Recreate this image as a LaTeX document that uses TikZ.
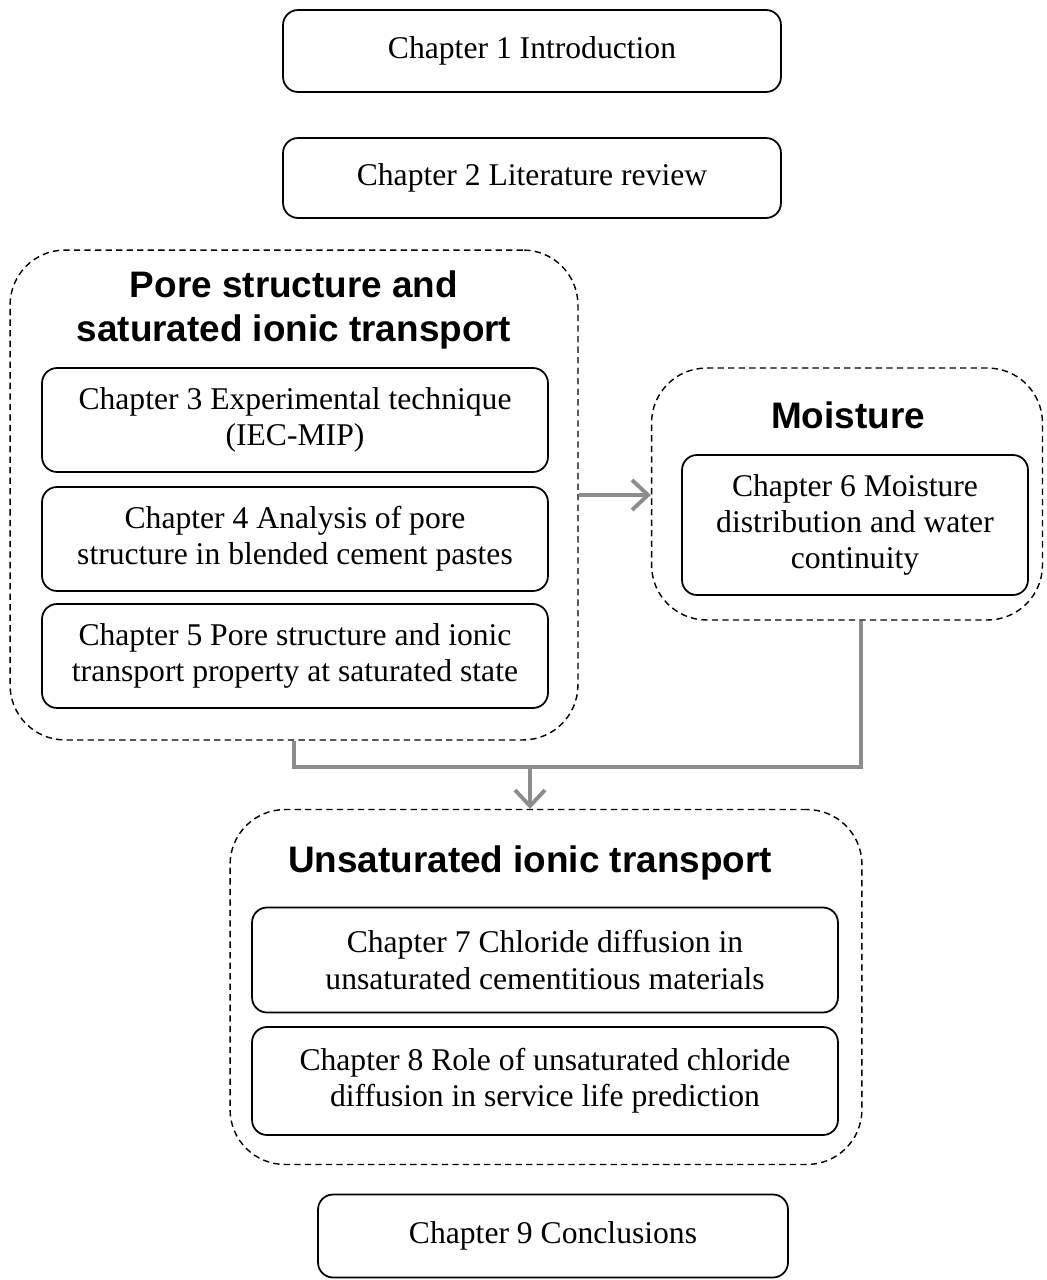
\documentclass[tikz,border=0pt]{standalone}
\usepackage{fontspec}
\setmainfont{Liberation Serif}
\newfontfamily\headfont{Liberation Sans}
\usetikzlibrary{arrows.meta,calc}
\definecolor{linkgray}{HTML}{8C8C8C}
\tikzset{
  chapbox/.style={draw, rounded corners=0.3cm, line width=1pt, align=center,
                  font=\fontsize{18}{20.5}\selectfont, inner sep=0pt},
  groupbox/.style={draw, rounded corners=1.1cm, line width=0.8pt,
                   dash pattern=on 3.6pt off 2.4pt, inner sep=0pt},
  grouptitle/.style={align=center, font=\headfont\bfseries\fontsize{21}{25}\selectfont},
  link/.style={draw=linkgray, line width=2.2pt},
  linkarrow/.style={link, -{Straight Barb[length=3.2mm, width=6mm]}},
}

\begin{document}
\begin{tikzpicture}[x=0.02cm, y=-0.02cm]
    \useasboundingbox (0,0) rectangle (1046,1280);
    % opening chapters
    \node[chapbox, minimum width=9.96cm, minimum height=1.64cm] (ch1) at (532, 51) {Chapter 1 Introduction};
    \node[chapbox, minimum width=9.96cm, minimum height=1.6cm] (ch2) at (532, 178) {Chapter 2 Literature review};
    % saturated part
    \node[groupbox, minimum width=11.36cm, minimum height=9.8cm] (grpA) at (294, 495) {};
    \node[grouptitle] (titleA) at (294, 310) {Pore structure and\\saturated ionic transport};
    \node[chapbox, minimum width=10.12cm, minimum height=2.08cm] (ch3) at (295, 420) {Chapter 3 Experimental technique\\(IEC-MIP)};
    \node[chapbox, minimum width=10.12cm, minimum height=2.08cm] (ch4) at (295, 539) {Chapter 4 Analysis of pore\\structure in blended cement pastes};
    \node[chapbox, minimum width=10.12cm, minimum height=2.08cm] (ch5) at (295, 656) {Chapter 5 Pore structure and ionic\\transport property at saturated state};
    % moisture part
    \node[groupbox, minimum width=7.82cm, minimum height=5.04cm] (grpB) at (847, 494) {};
    \node[grouptitle] (titleB) at (848, 415) {Moisture};
    \node[chapbox, minimum width=6.92cm, minimum height=2.8cm] (ch6) at (855, 525) {Chapter 6 Moisture\\distribution and water\\continuity};
    % unsaturated part
    \node[groupbox, minimum width=12.64cm, minimum height=7.1cm] (grpC) at (546, 987) {};
    \node[grouptitle] (titleC) at (530, 863) {Unsaturated ionic transport};
    \node[chapbox, minimum width=11.72cm, minimum height=2.1cm] (ch7) at (545, 960) {Chapter 7 Chloride diffusion in\\unsaturated cementitious materials};
    \node[chapbox, minimum width=11.72cm, minimum height=2.16cm] (ch8) at (545, 1081) {Chapter 8 Role of unsaturated chloride\\diffusion in service life prediction};
    % closing chapter
    \node[chapbox, minimum width=9.4cm, minimum height=1.66cm] (ch9) at (553, 1236) {Chapter 9 Conclusions};

    % connectors
    \coordinate (join) at (530, 767);
    \draw[linkarrow] (grpA.east) -- (grpA.east -| grpB.west);
    \draw[link] (grpA.south) |- (join) -| ($(grpB.south)+(14,0)$);
    \draw[linkarrow] (join) -- (join |- grpC.north);
\end{tikzpicture}
\end{document}
